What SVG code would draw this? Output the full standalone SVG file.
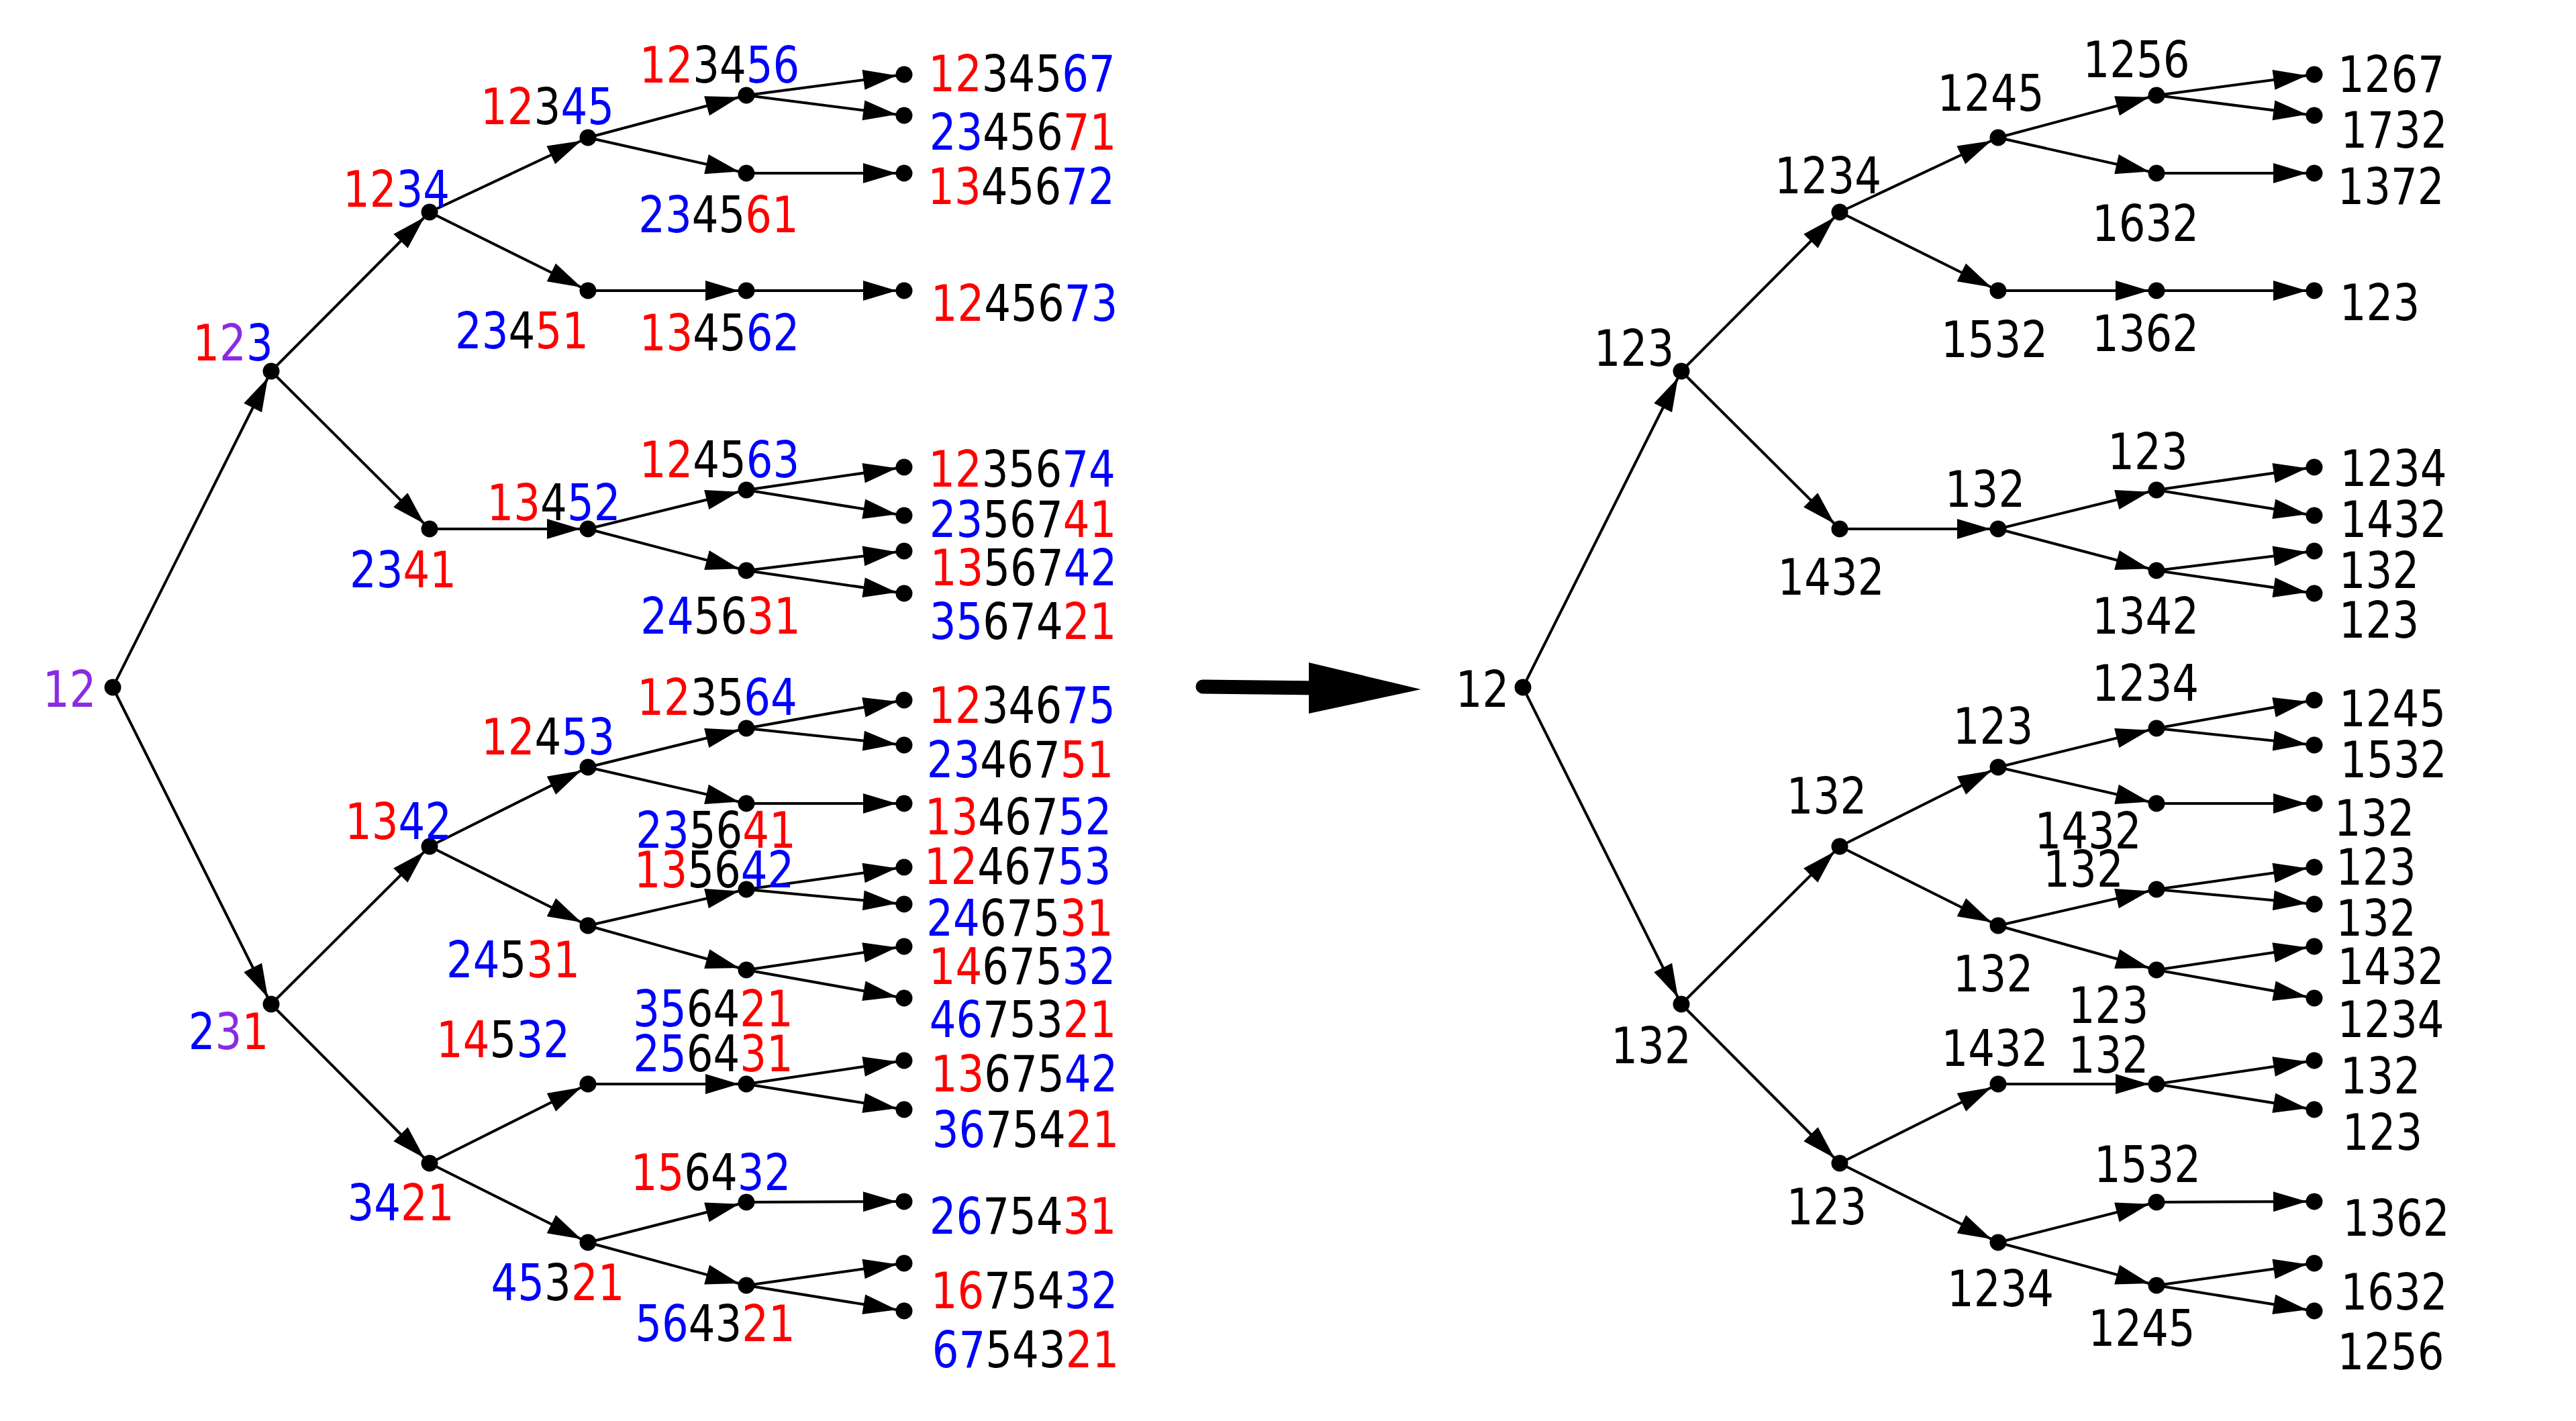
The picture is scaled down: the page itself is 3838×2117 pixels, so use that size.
<svg xmlns="http://www.w3.org/2000/svg" width="3838" height="2117" viewBox="0 0 3838 2117">
<style>
text{font-family:"DejaVu Sans","Liberation Sans",sans-serif;font-size:74px;text-anchor:middle;fill:#000}
.r{fill:#ff0000}.b{fill:#0000ff}.p{fill:#8a2be2}
.e{stroke:#000;stroke-width:4;fill:none;marker-end:url(#ah)}
circle{fill:#000}
</style>
<defs>
<marker id="ah" markerUnits="userSpaceOnUse" markerWidth="66" markerHeight="34" refX="61" refY="17" orient="auto" overflow="visible"><path d="M0,2 L50,17 L0,32 z" fill="#000"/></marker>
</defs>
<rect width="3838" height="2117" fill="#fff"/>
<g id="connectors">
<line class="e" x1="168" y1="1024" x2="404" y2="553"/>
<line class="e" x1="168" y1="1024" x2="404" y2="1496"/>
<line class="e" x1="404" y1="553" x2="640" y2="316"/>
<line class="e" x1="404" y1="553" x2="640" y2="788"/>
<line class="e" x1="404" y1="1496" x2="640" y2="1261"/>
<line class="e" x1="404" y1="1496" x2="640" y2="1733"/>
<line class="e" x1="640" y1="316" x2="876" y2="205"/>
<line class="e" x1="640" y1="316" x2="876" y2="433"/>
<line class="e" x1="640" y1="788" x2="876" y2="788"/>
<line class="e" x1="640" y1="1261" x2="876" y2="1143"/>
<line class="e" x1="640" y1="1261" x2="876" y2="1379"/>
<line class="e" x1="640" y1="1733" x2="876" y2="1615"/>
<line class="e" x1="640" y1="1733" x2="876" y2="1851"/>
<line class="e" x1="876" y1="205" x2="1112" y2="142"/>
<line class="e" x1="876" y1="205" x2="1112" y2="258"/>
<line class="e" x1="876" y1="433" x2="1112" y2="433"/>
<line class="e" x1="876" y1="788" x2="1112" y2="730"/>
<line class="e" x1="876" y1="788" x2="1112" y2="850"/>
<line class="e" x1="876" y1="1143" x2="1112" y2="1085"/>
<line class="e" x1="876" y1="1143" x2="1112" y2="1197"/>
<line class="e" x1="876" y1="1379" x2="1112" y2="1325"/>
<line class="e" x1="876" y1="1379" x2="1112" y2="1445"/>
<line class="e" x1="876" y1="1615" x2="1112" y2="1615"/>
<line class="e" x1="876" y1="1851" x2="1112" y2="1791"/>
<line class="e" x1="876" y1="1851" x2="1112" y2="1915"/>
<line class="e" x1="1112" y1="142" x2="1347" y2="111"/>
<line class="e" x1="1112" y1="142" x2="1347" y2="172"/>
<line class="e" x1="1112" y1="258" x2="1347" y2="258"/>
<line class="e" x1="1112" y1="433" x2="1347" y2="433"/>
<line class="e" x1="1112" y1="730" x2="1347" y2="696"/>
<line class="e" x1="1112" y1="730" x2="1347" y2="768"/>
<line class="e" x1="1112" y1="850" x2="1347" y2="821"/>
<line class="e" x1="1112" y1="850" x2="1347" y2="884"/>
<line class="e" x1="1112" y1="1085" x2="1347" y2="1043"/>
<line class="e" x1="1112" y1="1085" x2="1347" y2="1110"/>
<line class="e" x1="1112" y1="1197" x2="1347" y2="1197"/>
<line class="e" x1="1112" y1="1325" x2="1347" y2="1292"/>
<line class="e" x1="1112" y1="1325" x2="1347" y2="1347"/>
<line class="e" x1="1112" y1="1445" x2="1347" y2="1410"/>
<line class="e" x1="1112" y1="1445" x2="1347" y2="1487"/>
<line class="e" x1="1112" y1="1615" x2="1347" y2="1580"/>
<line class="e" x1="1112" y1="1615" x2="1347" y2="1653"/>
<line class="e" x1="1112" y1="1791" x2="1347" y2="1790"/>
<line class="e" x1="1112" y1="1915" x2="1347" y2="1882"/>
<line class="e" x1="1112" y1="1915" x2="1347" y2="1953"/>

<line class="e" x1="2269" y1="1024" x2="2505" y2="553"/>
<line class="e" x1="2269" y1="1024" x2="2505" y2="1496"/>
<line class="e" x1="2505" y1="553" x2="2741" y2="316"/>
<line class="e" x1="2505" y1="553" x2="2741" y2="788"/>
<line class="e" x1="2505" y1="1496" x2="2741" y2="1261"/>
<line class="e" x1="2505" y1="1496" x2="2741" y2="1733"/>
<line class="e" x1="2741" y1="316" x2="2977" y2="205"/>
<line class="e" x1="2741" y1="316" x2="2977" y2="433"/>
<line class="e" x1="2741" y1="788" x2="2977" y2="788"/>
<line class="e" x1="2741" y1="1261" x2="2977" y2="1143"/>
<line class="e" x1="2741" y1="1261" x2="2977" y2="1379"/>
<line class="e" x1="2741" y1="1733" x2="2977" y2="1615"/>
<line class="e" x1="2741" y1="1733" x2="2977" y2="1851"/>
<line class="e" x1="2977" y1="205" x2="3213" y2="142"/>
<line class="e" x1="2977" y1="205" x2="3213" y2="258"/>
<line class="e" x1="2977" y1="433" x2="3213" y2="433"/>
<line class="e" x1="2977" y1="788" x2="3213" y2="730"/>
<line class="e" x1="2977" y1="788" x2="3213" y2="850"/>
<line class="e" x1="2977" y1="1143" x2="3213" y2="1085"/>
<line class="e" x1="2977" y1="1143" x2="3213" y2="1197"/>
<line class="e" x1="2977" y1="1379" x2="3213" y2="1325"/>
<line class="e" x1="2977" y1="1379" x2="3213" y2="1445"/>
<line class="e" x1="2977" y1="1615" x2="3213" y2="1615"/>
<line class="e" x1="2977" y1="1851" x2="3213" y2="1791"/>
<line class="e" x1="2977" y1="1851" x2="3213" y2="1915"/>
<line class="e" x1="3213" y1="142" x2="3448" y2="111"/>
<line class="e" x1="3213" y1="142" x2="3448" y2="172"/>
<line class="e" x1="3213" y1="258" x2="3448" y2="258"/>
<line class="e" x1="3213" y1="433" x2="3448" y2="433"/>
<line class="e" x1="3213" y1="730" x2="3448" y2="696"/>
<line class="e" x1="3213" y1="730" x2="3448" y2="768"/>
<line class="e" x1="3213" y1="850" x2="3448" y2="821"/>
<line class="e" x1="3213" y1="850" x2="3448" y2="884"/>
<line class="e" x1="3213" y1="1085" x2="3448" y2="1043"/>
<line class="e" x1="3213" y1="1085" x2="3448" y2="1110"/>
<line class="e" x1="3213" y1="1197" x2="3448" y2="1197"/>
<line class="e" x1="3213" y1="1325" x2="3448" y2="1292"/>
<line class="e" x1="3213" y1="1325" x2="3448" y2="1347"/>
<line class="e" x1="3213" y1="1445" x2="3448" y2="1410"/>
<line class="e" x1="3213" y1="1445" x2="3448" y2="1487"/>
<line class="e" x1="3213" y1="1615" x2="3448" y2="1580"/>
<line class="e" x1="3213" y1="1615" x2="3448" y2="1653"/>
<line class="e" x1="3213" y1="1791" x2="3448" y2="1790"/>
<line class="e" x1="3213" y1="1915" x2="3448" y2="1882"/>
<line class="e" x1="3213" y1="1915" x2="3448" y2="1953"/>
</g>

<g id="big-arrow">
<line x1="1792" y1="1023" x2="1965" y2="1025" stroke="#000" stroke-width="21" stroke-linecap="round"/>
<polygon points="1950,987 2117,1027 1950,1063" fill="#000"/>
</g>

<g id="left-tree">
<g id="L-12"><circle cx="168" cy="1024" r="12.5"/><text transform="translate(103.5,1053) scale(.845,1)" class="p">12</text></g>
<g id="L-123"><circle cx="404" cy="553" r="12.5"/><text transform="translate(347,537) scale(.845,1)"><tspan class="r">1</tspan><tspan class="p">2</tspan><tspan class="b">3</tspan></text></g>
<g id="L-231"><circle cx="404" cy="1496" r="12.5"/><text transform="translate(340.5,1563) scale(.845,1)"><tspan class="b">2</tspan><tspan class="p">3</tspan><tspan class="r">1</tspan></text></g>
<g id="L-1234"><circle cx="640" cy="316" r="12.5"/><text transform="translate(590.5,308) scale(.845,1)"><tspan class="r">12</tspan><tspan class="b">34</tspan></text></g>
<g id="L-2341"><circle cx="640" cy="788" r="12.5"/><text transform="translate(600.5,875) scale(.845,1)"><tspan class="b">23</tspan><tspan class="r">41</tspan></text></g>
<g id="L-1342"><circle cx="640" cy="1261" r="12.5"/><text transform="translate(593.5,1250) scale(.845,1)"><tspan class="r">13</tspan><tspan class="b">42</tspan></text></g>
<g id="L-3421"><circle cx="640" cy="1733" r="12.5"/><text transform="translate(597,1818) scale(.845,1)"><tspan class="b">34</tspan><tspan class="r">21</tspan></text></g>
<g id="L-12345"><circle cx="876" cy="205" r="12.5"/><text transform="translate(815.5,185) scale(.845,1)"><tspan class="r">12</tspan>3<tspan class="b">45</tspan></text></g>
<g id="L-23451"><circle cx="876" cy="433" r="12.5"/><text transform="translate(777.5,519) scale(.845,1)"><tspan class="b">23</tspan>4<tspan class="r">51</tspan></text></g>
<g id="L-13452"><circle cx="876" cy="788" r="12.5"/><text transform="translate(825,775) scale(.845,1)"><tspan class="r">13</tspan>4<tspan class="b">52</tspan></text></g>
<g id="L-12453"><circle cx="876" cy="1143" r="12.5"/><text transform="translate(816.5,1124) scale(.845,1)"><tspan class="r">12</tspan>4<tspan class="b">53</tspan></text></g>
<g id="L-24531"><circle cx="876" cy="1379" r="12.5"/><text transform="translate(764.5,1456) scale(.845,1)"><tspan class="b">24</tspan>5<tspan class="r">31</tspan></text></g>
<g id="L-14532"><circle cx="876" cy="1615" r="12.5"/><text transform="translate(749.5,1575) scale(.845,1)"><tspan class="r">14</tspan>5<tspan class="b">32</tspan></text></g>
<g id="L-45321"><circle cx="876" cy="1851" r="12.5"/><text transform="translate(831,1937) scale(.845,1)"><tspan class="b">45</tspan>3<tspan class="r">21</tspan></text></g>
<g id="L-123456"><circle cx="1112" cy="142" r="12.5"/><text transform="translate(1072,123) scale(.845,1)"><tspan class="r">12</tspan>34<tspan class="b">56</tspan></text></g>
<g id="L-234561"><circle cx="1112" cy="258" r="12.5"/><text transform="translate(1070.5,346) scale(.845,1)"><tspan class="b">23</tspan>45<tspan class="r">61</tspan></text></g>
<g id="L-134562"><circle cx="1112" cy="433" r="12.5"/><text transform="translate(1072,522) scale(.845,1)"><tspan class="r">13</tspan>45<tspan class="b">62</tspan></text></g>
<g id="L-124563"><circle cx="1112" cy="730" r="12.5"/><text transform="translate(1072,711) scale(.845,1)"><tspan class="r">12</tspan>45<tspan class="b">63</tspan></text></g>
<g id="L-245631"><circle cx="1112" cy="850" r="12.5"/><text transform="translate(1073.5,944) scale(.845,1)"><tspan class="b">24</tspan>56<tspan class="r">31</tspan></text></g>
<g id="L-123564"><circle cx="1112" cy="1085" r="12.5"/><text transform="translate(1068.5,1065) scale(.845,1)"><tspan class="r">12</tspan>35<tspan class="b">64</tspan></text></g>
<g id="L-235641"><circle cx="1112" cy="1197" r="12.5"/><text transform="translate(1066.5,1263) scale(.845,1)"><tspan class="b">23</tspan>56<tspan class="r">41</tspan></text></g>
<g id="L-135642"><circle cx="1112" cy="1325" r="12.5"/><text transform="translate(1064,1322) scale(.845,1)"><tspan class="r">13</tspan>56<tspan class="b">42</tspan></text></g>
<g id="L-356421"><circle cx="1112" cy="1445" r="12.5"/><text transform="translate(1062.5,1529) scale(.845,1)"><tspan class="b">35</tspan>64<tspan class="r">21</tspan></text></g>
<g id="L-256431"><circle cx="1112" cy="1615" r="12.5"/><text transform="translate(1062.5,1596) scale(.845,1)"><tspan class="b">25</tspan>64<tspan class="r">31</tspan></text></g>
<g id="L-156432"><circle cx="1112" cy="1791" r="12.5"/><text transform="translate(1059,1773) scale(.845,1)"><tspan class="r">15</tspan>64<tspan class="b">32</tspan></text></g>
<g id="L-564321"><circle cx="1112" cy="1915" r="12.5"/><text transform="translate(1065.5,1998) scale(.845,1)"><tspan class="b">56</tspan>43<tspan class="r">21</tspan></text></g>
<g id="L-1234567"><circle cx="1347" cy="111" r="12.5"/><text transform="translate(1522.5,136) scale(.845,1)"><tspan class="r">12</tspan>345<tspan class="b">67</tspan></text></g>
<g id="L-2345671"><circle cx="1347" cy="172" r="12.5"/><text transform="translate(1524,223) scale(.845,1)"><tspan class="b">23</tspan>456<tspan class="r">71</tspan></text></g>
<g id="L-1345672"><circle cx="1347" cy="258" r="12.5"/><text transform="translate(1521.5,304) scale(.845,1)"><tspan class="r">13</tspan>456<tspan class="b">72</tspan></text></g>
<g id="L-1245673"><circle cx="1347" cy="433" r="12.5"/><text transform="translate(1526,478) scale(.845,1)"><tspan class="r">12</tspan>456<tspan class="b">73</tspan></text></g>
<g id="L-1235674"><circle cx="1347" cy="696" r="12.5"/><text transform="translate(1522.5,725) scale(.845,1)"><tspan class="r">12</tspan>356<tspan class="b">74</tspan></text></g>
<g id="L-2356741"><circle cx="1347" cy="768" r="12.5"/><text transform="translate(1524,800) scale(.845,1)"><tspan class="b">23</tspan>567<tspan class="r">41</tspan></text></g>
<g id="L-1356742"><circle cx="1347" cy="821" r="12.5"/><text transform="translate(1525,872) scale(.845,1)"><tspan class="r">13</tspan>567<tspan class="b">42</tspan></text></g>
<g id="L-3567421"><circle cx="1347" cy="884" r="12.5"/><text transform="translate(1524,952) scale(.845,1)"><tspan class="b">35</tspan>674<tspan class="r">21</tspan></text></g>
<g id="L-1234675"><circle cx="1347" cy="1043" r="12.5"/><text transform="translate(1522.5,1077) scale(.845,1)"><tspan class="r">12</tspan>346<tspan class="b">75</tspan></text></g>
<g id="L-2346751"><circle cx="1347" cy="1110" r="12.5"/><text transform="translate(1520,1158) scale(.845,1)"><tspan class="b">23</tspan>467<tspan class="r">51</tspan></text></g>
<g id="L-1346752"><circle cx="1347" cy="1197" r="12.5"/><text transform="translate(1517,1243) scale(.845,1)"><tspan class="r">13</tspan>467<tspan class="b">52</tspan></text></g>
<g id="L-1246753"><circle cx="1347" cy="1292" r="12.5"/><text transform="translate(1516,1317) scale(.845,1)"><tspan class="r">12</tspan>467<tspan class="b">53</tspan></text></g>
<g id="L-2467531"><circle cx="1347" cy="1347" r="12.5"/><text transform="translate(1519.5,1394) scale(.845,1)"><tspan class="b">24</tspan>675<tspan class="r">31</tspan></text></g>
<g id="L-1467532"><circle cx="1347" cy="1410" r="12.5"/><text transform="translate(1523,1466) scale(.845,1)"><tspan class="r">14</tspan>675<tspan class="b">32</tspan></text></g>
<g id="L-4675321"><circle cx="1347" cy="1487" r="12.5"/><text transform="translate(1524,1545) scale(.845,1)"><tspan class="b">46</tspan>753<tspan class="r">21</tspan></text></g>
<g id="L-1367542"><circle cx="1347" cy="1580" r="12.5"/><text transform="translate(1526,1626) scale(.845,1)"><tspan class="r">13</tspan>675<tspan class="b">42</tspan></text></g>
<g id="L-3675421"><circle cx="1347" cy="1653" r="12.5"/><text transform="translate(1528,1709) scale(.845,1)"><tspan class="b">36</tspan>754<tspan class="r">21</tspan></text></g>
<g id="L-2675431"><circle cx="1347" cy="1790" r="12.5"/><text transform="translate(1524,1838) scale(.845,1)"><tspan class="b">26</tspan>754<tspan class="r">31</tspan></text></g>
<g id="L-1675432"><circle cx="1347" cy="1882" r="12.5"/><text transform="translate(1526,1949) scale(.845,1)"><tspan class="r">16</tspan>754<tspan class="b">32</tspan></text></g>
<g id="L-6754321"><circle cx="1347" cy="1953" r="12.5"/><text transform="translate(1528,2037) scale(.845,1)"><tspan class="b">67</tspan>543<tspan class="r">21</tspan></text></g>
</g>

<g id="right-tree">
<g id="R-root"><circle cx="2269" cy="1024" r="12.5"/><text transform="translate(2208.5,1053) scale(.845,1)">12</text></g>
<g id="R-1a"><circle cx="2505" cy="553" r="12.5"/><text transform="translate(2434.5,545) scale(.845,1)">123</text></g>
<g id="R-1b"><circle cx="2505" cy="1496" r="12.5"/><text transform="translate(2460,1584) scale(.845,1)">132</text></g>
<g id="R-2a"><circle cx="2741" cy="316" r="12.5"/><text transform="translate(2723.5,288) scale(.845,1)">1234</text></g>
<g id="R-2b"><circle cx="2741" cy="788" r="12.5"/><text transform="translate(2728,886) scale(.845,1)">1432</text></g>
<g id="R-2c"><circle cx="2741" cy="1261" r="12.5"/><text transform="translate(2721.5,1212) scale(.845,1)">132</text></g>
<g id="R-2d"><circle cx="2741" cy="1733" r="12.5"/><text transform="translate(2721.5,1824) scale(.845,1)">123</text></g>
<g id="R-3a"><circle cx="2977" cy="205" r="12.5"/><text transform="translate(2966,165) scale(.845,1)">1245</text></g>
<g id="R-3b"><circle cx="2977" cy="433" r="12.5"/><text transform="translate(2971.5,532) scale(.845,1)">1532</text></g>
<g id="R-3c"><circle cx="2977" cy="788" r="12.5"/><text transform="translate(2957.5,755) scale(.845,1)">132</text></g>
<g id="R-3d"><circle cx="2977" cy="1143" r="12.5"/><text transform="translate(2969.5,1108) scale(.845,1)">123</text></g>
<g id="R-3e"><circle cx="2977" cy="1379" r="12.5"/><text transform="translate(2969.5,1477) scale(.845,1)">132</text></g>
<g id="R-3f"><circle cx="2977" cy="1615" r="12.5"/><text transform="translate(2972,1588) scale(.845,1)">1432</text></g>
<g id="R-3g"><circle cx="2977" cy="1851" r="12.5"/><text transform="translate(2980.5,1946) scale(.845,1)">1234</text></g>
<g id="R-4a"><circle cx="3213" cy="142" r="12.5"/><text transform="translate(3183,115) scale(.845,1)">1256</text></g>
<g id="R-4b"><circle cx="3213" cy="258" r="12.5"/><text transform="translate(3196.5,359) scale(.845,1)">1632</text></g>
<g id="R-4c"><circle cx="3213" cy="433" r="12.5"/><text transform="translate(3196.5,523) scale(.845,1)">1362</text></g>
<g id="R-4d"><circle cx="3213" cy="730" r="12.5"/><text transform="translate(3200,699) scale(.845,1)">123</text></g>
<g id="R-4e"><circle cx="3213" cy="850" r="12.5"/><text transform="translate(3196.5,944) scale(.845,1)">1342</text></g>
<g id="R-4f"><circle cx="3213" cy="1085" r="12.5"/><text transform="translate(3196.5,1044) scale(.845,1)">1234</text></g>
<g id="R-4g"><circle cx="3213" cy="1197" r="12.5"/><text transform="translate(3111,1264) scale(.845,1)">1432</text></g>
<g id="R-4h"><circle cx="3213" cy="1325" r="12.5"/><text transform="translate(3104,1321) scale(.845,1)">132</text></g>
<g id="R-4i"><circle cx="3213" cy="1445" r="12.5"/><text transform="translate(3141.5,1524) scale(.845,1)">123</text></g>
<g id="R-4j"><circle cx="3213" cy="1615" r="12.5"/><text transform="translate(3141.5,1598) scale(.845,1)">132</text></g>
<g id="R-4k"><circle cx="3213" cy="1791" r="12.5"/><text transform="translate(3199.5,1761) scale(.845,1)">1532</text></g>
<g id="R-4l"><circle cx="3213" cy="1915" r="12.5"/><text transform="translate(3191,2005) scale(.845,1)">1245</text></g>
<g id="R-5a"><circle cx="3448" cy="111" r="12.5"/><text transform="translate(3562.5,137) scale(.845,1)">1267</text></g>
<g id="R-5b"><circle cx="3448" cy="172" r="12.5"/><text transform="translate(3567,220) scale(.845,1)">1732</text></g>
<g id="R-5c"><circle cx="3448" cy="258" r="12.5"/><text transform="translate(3562,304) scale(.845,1)">1372</text></g>
<g id="R-5d"><circle cx="3448" cy="433" r="12.5"/><text transform="translate(3545.5,477) scale(.845,1)">123</text></g>
<g id="R-5e"><circle cx="3448" cy="696" r="12.5"/><text transform="translate(3566,724) scale(.845,1)">1234</text></g>
<g id="R-5f"><circle cx="3448" cy="768" r="12.5"/><text transform="translate(3566,800) scale(.845,1)">1432</text></g>
<g id="R-5g"><circle cx="3448" cy="821" r="12.5"/><text transform="translate(3544.5,876) scale(.845,1)">132</text></g>
<g id="R-5h"><circle cx="3448" cy="884" r="12.5"/><text transform="translate(3544.5,950) scale(.845,1)">123</text></g>
<g id="R-5i"><circle cx="3448" cy="1043" r="12.5"/><text transform="translate(3564.5,1082) scale(.845,1)">1245</text></g>
<g id="R-5j"><circle cx="3448" cy="1110" r="12.5"/><text transform="translate(3566,1158) scale(.845,1)">1532</text></g>
<g id="R-5k"><circle cx="3448" cy="1197" r="12.5"/><text transform="translate(3537.5,1245) scale(.845,1)">132</text></g>
<g id="R-5l"><circle cx="3448" cy="1292" r="12.5"/><text transform="translate(3540,1318) scale(.845,1)">123</text></g>
<g id="R-5m"><circle cx="3448" cy="1347" r="12.5"/><text transform="translate(3540,1394) scale(.845,1)">132</text></g>
<g id="R-5n"><circle cx="3448" cy="1410" r="12.5"/><text transform="translate(3562,1466) scale(.845,1)">1432</text></g>
<g id="R-5o"><circle cx="3448" cy="1487" r="12.5"/><text transform="translate(3562,1545) scale(.845,1)">1234</text></g>
<g id="R-5p"><circle cx="3448" cy="1580" r="12.5"/><text transform="translate(3546.5,1629) scale(.845,1)">132</text></g>
<g id="R-5q"><circle cx="3448" cy="1653" r="12.5"/><text transform="translate(3549.5,1713) scale(.845,1)">123</text></g>
<g id="R-5r"><circle cx="3448" cy="1790" r="12.5"/><text transform="translate(3570,1841) scale(.845,1)">1362</text></g>
<g id="R-5s"><circle cx="3448" cy="1882" r="12.5"/><text transform="translate(3567,1951) scale(.845,1)">1632</text></g>
<g id="R-5t"><circle cx="3448" cy="1953" r="12.5"/><text transform="translate(3562,2040) scale(.845,1)">1256</text></g>
</g>
</svg>
